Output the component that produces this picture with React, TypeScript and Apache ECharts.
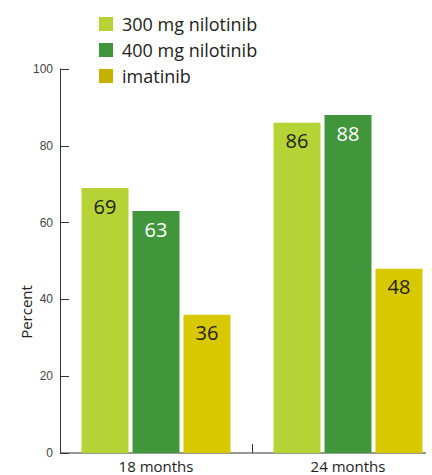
import React, { useEffect, useRef } from "react";
import * as echarts from "echarts";

const categories = ["18 months", "24 months"];
const seriesNames = ["300 mg nilotinib", "400 mg nilotinib", "imatinib"];
const nilotinib300 = [69, 86];
const nilotinib400 = [63, 88];
const imatinib = [36, 48];
const yTicks = { min: 0, max: 100, interval: 20 };

const colors = ["#b5d334", "#41963c", "#d7c800"];
const legendColors = ["#b5d334", "#41963c", "#c4b100"];
const labelColors = ["#222222", "#ffffff", "#222222"];
const FONT = "'Open Sans', Lato, sans-serif";
const TICKFONT = "'Liberation Sans', Arial, sans-serif";

export default function App() {
  const ref = useRef<HTMLDivElement>(null);
  useEffect(() => {
    if (!ref.current) return;
    const chart = echarts.init(ref.current, null, { renderer: "svg" });
    const data = [nilotinib300, nilotinib400, imatinib];
    chart.setOption({
      animation: false,
      textStyle: { fontFamily: FONT },
      legend: {
        orient: "vertical",
        left: 99,
        top: 15,
        padding: 0,
        itemWidth: 14,
        itemHeight: 14,
        itemGap: 8,
        icon: "rect",
        textStyle: { fontSize: 18, lineHeight: 18, color: "#222", fontFamily: FONT, padding: [0, 0, 0, 4] },
        data: seriesNames.map((n, i) => ({ name: n, itemStyle: { color: legendColors[i] } })),
      },
      grid: { left: 60, top: 69, bottom: 22, right: 0, containLabel: false },
      xAxis: {
        type: "category",
        data: categories,
        axisLine: { show: false },
        axisTick: { show: true, inside: true, length: 9, lineStyle: { color: "#333" } },
        axisLabel: { fontSize: 15, lineHeight: 15, color: "#222", margin: 5, fontFamily: FONT },
      },
      yAxis: {
        type: "value",
        min: yTicks.min,
        max: yTicks.max,
        interval: yTicks.interval,
        splitLine: { show: false },
        axisLine: { show: true, lineStyle: { color: "#333", width: 1 } },
        axisTick: { show: true, inside: true, length: 9, lineStyle: { color: "#333" } },
        axisLabel: { fontSize: 12, color: "#444", margin: 7, fontFamily: TICKFONT },
      },
      graphic: [
        {
          type: "line",
          shape: { x1: 60, y1: 453, x2: 426, y2: 453 },
          style: { stroke: "#333", lineWidth: 1 },
        },
        {
          type: "text",
          x: 26,
          y: 312,
          rotation: Math.PI / 2,
          style: {
            text: "Percent",
            fontSize: 15,
            fill: "#222",
            fontFamily: FONT,
            textAlign: "center",
            textVerticalAlign: "middle",
          },
        },
      ],
      series: seriesNames.map((name, i) => ({
        name,
        type: "bar",
        data: data[i],
        barWidth: 47,
        barGap: "8.5%",
        itemStyle: { color: colors[i] },
        label: {
          show: true,
          position: "insideTop",
          distance: 8,
          fontSize: 20,
          color: labelColors[i],
          fontFamily: FONT,
        },
      })),
    });
    return () => chart.dispose();
  }, []);
  return (
    <div style={{ position: "absolute", left: 0, top: 0, width: 432, height: 475, overflow: "hidden" }}>
      <div ref={ref} style={{ width: 444, height: 475 }} />
    </div>
  );
}
